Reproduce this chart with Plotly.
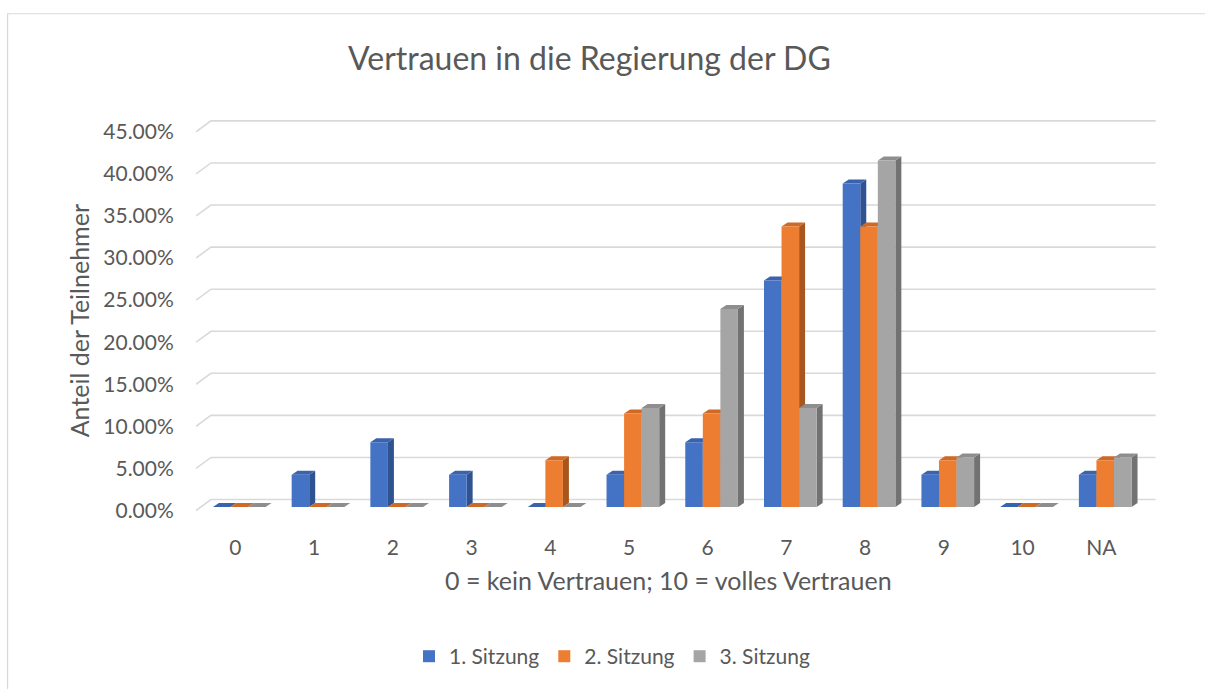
import plotly.graph_objects as go

# ---------------- data ----------------
categories = ["0", "1", "2", "3", "4", "5", "6", "7", "8", "9", "10", "NA"]
series_names = ["1. Sitzung", "2. Sitzung", "3. Sitzung"]
sitzung1 = [0.0, 3.85, 7.69, 3.85, 0.0, 3.85, 7.69, 26.92, 38.46, 3.85, 0.0, 3.85]
sitzung2 = [0.0, 0.0, 0.0, 0.0, 5.56, 11.11, 11.11, 33.33, 33.33, 5.56, 0.0, 5.56]
sitzung3 = [0.0, 0.0, 0.0, 0.0, 0.0, 11.76, 23.53, 11.76, 41.18, 5.88, 0.0, 5.88]
y_ticks = [0, 5, 10, 15, 20, 25, 30, 35, 40, 45]

# ---------------- style ----------------
front_colors = ["#4472C4", "#ED7D31", "#A5A5A5"]
top_colors = ["#3A63AE", "#CF6A26", "#8E8E8E"]
side_colors = ["#2F5290", "#A8561E", "#727272"]
text_color = "#595959"
grid_color = "#D9D9D9"
FONT = "Lato"

# geometry (in axis units)
bar_w = 0.223          # width of one bar
group_offset = -0.335  # left edge of group relative to category
front_dx, front_dy = 0.05, 0.41    # bars sit slightly behind the front plane
depth_dx, depth_dy = 0.076, 0.47   # bar depth
wall_dx, wall_dy = 0.19, 1.3       # back wall depth

# pixel layout
L, W = 195.6, 962.9
T, H = 114.9, 400.6
B_PX = T + H
Y_MIN, Y_MAX = -0.3, 47.0
X_MIN, X_MAX = -0.5, len(categories) - 0.5 + wall_dx + 0.03


def px_x(p):
    return (p - L) / W


def px_y(p):
    return (B_PX - p) / H


fig = go.Figure()

# back-wall gridlines with the perspective diagonal on the left
gx, gy = [], []
for t in y_ticks:
    gx += [X_MIN, X_MIN + wall_dx, len(categories) - 0.5 + wall_dx, None]
    gy += [t, t + wall_dy, t + wall_dy, None]
fig.add_trace(go.Scatter(x=gx, y=gy, mode="lines",
                         line=dict(color=grid_color, width=1.6),
                         hoverinfo="skip", showlegend=False))

# pseudo-3D bars
all_series = [sitzung1, sitzung2, sitzung3]
for s, vals in enumerate(all_series):
    fx, fy, tx, ty, sx, sy = [], [], [], [], [], []
    for i, v in enumerate(vals):
        x0 = i + group_offset + s * bar_w + front_dx
        x1 = x0 + bar_w
        y0 = front_dy
        y1 = v + front_dy
        if v > 0:
            fx += [x0, x1, x1, x0, x0, None]
            fy += [y0, y0, y1, y1, y0, None]
            sx += [x1, x1 + depth_dx, x1 + depth_dx, x1, x1, None]
            sy += [y0, y0 + depth_dy, y1 + depth_dy, y1, y0, None]
        tx += [x0, x0 + depth_dx, x1 + depth_dx, x1, x0, None]
        ty += [y1, y1 + depth_dy, y1 + depth_dy, y1, y1, None]
    fig.add_trace(go.Scatter(x=sx, y=sy, mode="none", fill="toself",
                             fillcolor=side_colors[s], hoverinfo="skip",
                             showlegend=False))
    fig.add_trace(go.Scatter(x=tx, y=ty, mode="none", fill="toself",
                             fillcolor=top_colors[s], hoverinfo="skip",
                             showlegend=False))
    fig.add_trace(go.Scatter(x=fx, y=fy, mode="none", fill="toself",
                             fillcolor=front_colors[s], hoverinfo="skip",
                             showlegend=False))

# legend entries
for s, name in enumerate(series_names):
    fig.add_trace(go.Scatter(x=[None], y=[None], mode="markers", name=name,
                             marker=dict(symbol="square", size=13,
                                         color=front_colors[s])))

fig.update_layout(
    width=1205, height=689,
    margin=dict(l=L, r=1205 - L - W, t=T, b=689 - B_PX, pad=0),
    paper_bgcolor="white", plot_bgcolor="white",
    font=dict(family=FONT, color=text_color, size=21),
    showlegend=True,
    legend=dict(orientation="h", xanchor="center", yanchor="middle",
                x=px_x(612), y=px_y(660), font=dict(size=21, color=text_color),
                itemsizing="constant", tracegroupgap=0, itemwidth=30),
    xaxis=dict(range=[X_MIN, X_MAX], tickmode="array",
               tickvals=list(range(len(categories))), ticktext=categories,
               showgrid=False, zeroline=False, showline=False,
               ticks="outside", ticklen=16, tickcolor="rgba(0,0,0,0)",
               tickfont=dict(size=21, color=text_color), fixedrange=True),
    yaxis=dict(range=[Y_MIN, Y_MAX], tickmode="array", tickvals=y_ticks,
               ticktext=[f"{t:.2f}%" for t in y_ticks],
               showgrid=False, zeroline=False, showline=False,
               ticks="outside", ticklen=17, tickcolor="rgba(0,0,0,0)",
               tickfont=dict(size=21, color=text_color), fixedrange=True),
    annotations=[
        dict(text="Vertrauen in die Regierung der DG", xref="paper", yref="paper",
             x=px_x(589), y=px_y(57), xanchor="center", yanchor="middle",
             showarrow=False, font=dict(size=32, color=text_color, family=FONT)),
        dict(text="0 = kein Vertrauen; 10 = volles Vertrauen", xref="paper",
             yref="paper", x=px_x(669), y=px_y(583), xanchor="center",
             yanchor="middle", showarrow=False,
             font=dict(size=25, color=text_color, family=FONT)),
        dict(text="Anteil der Teilnehmer", xref="paper", yref="paper",
             x=px_x(78), y=px_y(322), xanchor="center", yanchor="middle",
             textangle=-90, showarrow=False,
             font=dict(size=25, color=text_color, family=FONT)),
    ],
    shapes=[dict(type="rect", xref="paper", yref="paper", layer="below",
                 x0=px_x(7), x1=px_x(1215), y0=px_y(700), y1=px_y(13),
                 line=dict(color=grid_color, width=1.2), fillcolor="rgba(0,0,0,0)")],
)

fig.write_html("out.html",
               config={"displayModeBar": False},
               post_script="document.body.style.margin='0';"
                           "document.body.style.overflow='hidden';")
